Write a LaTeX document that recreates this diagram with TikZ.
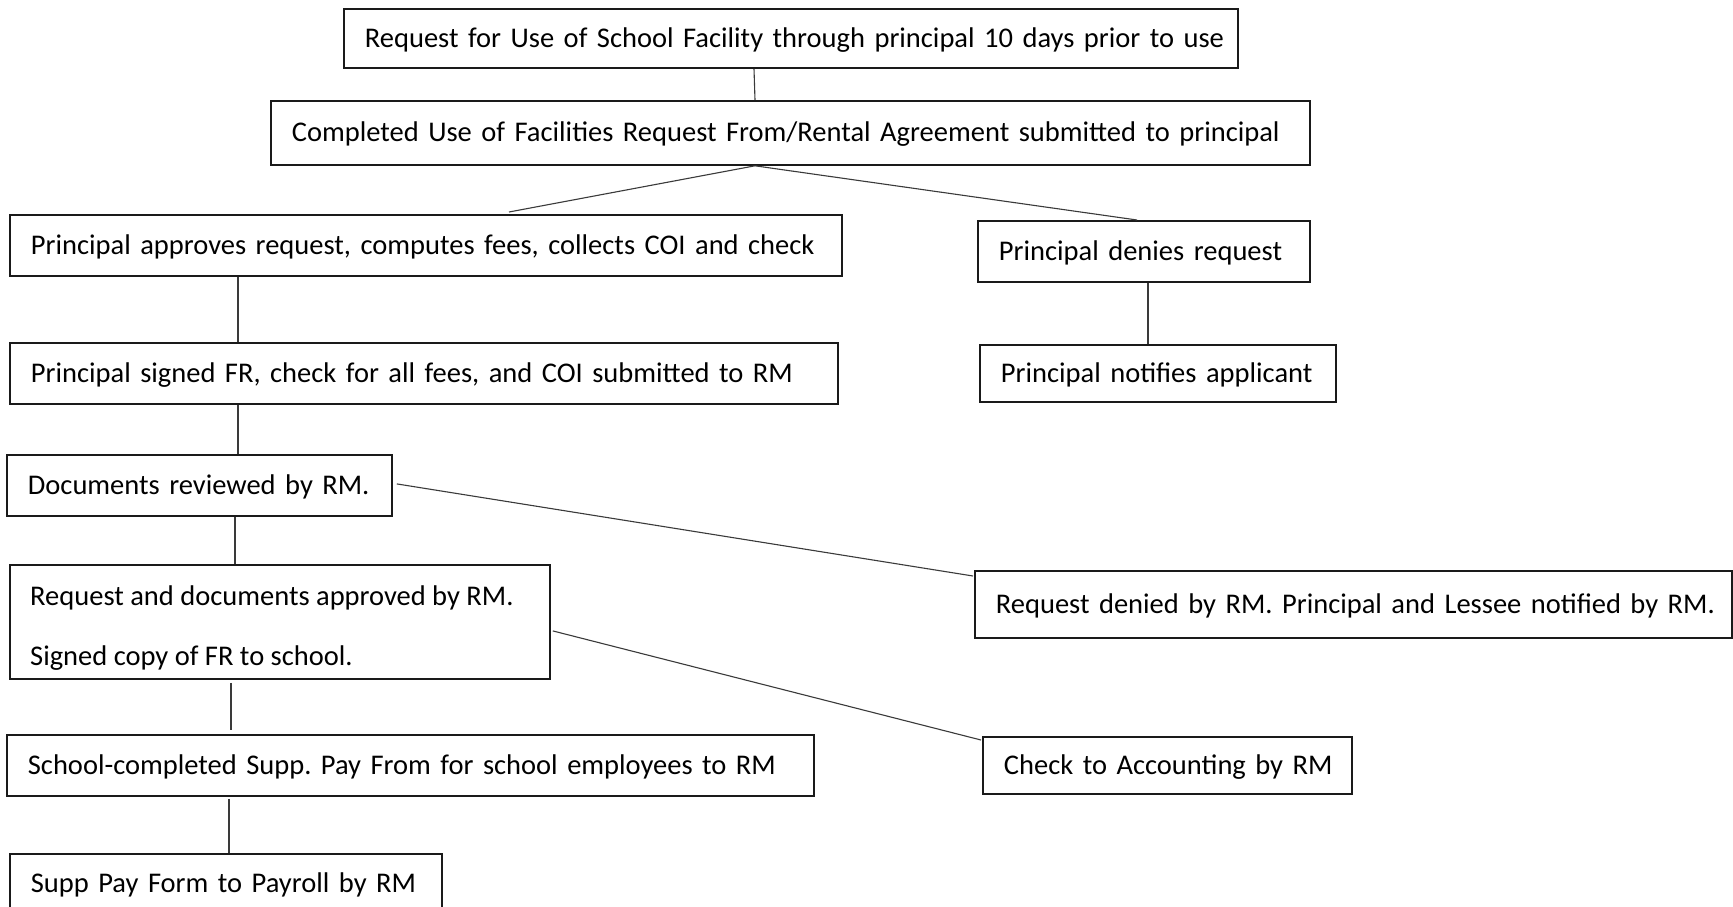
\documentclass[tikz,border=0pt]{standalone}
\usepackage{fontspec}
\setmainfont{Carlito}
\definecolor{boxc}{HTML}{1A1A1A}
\definecolor{linec}{HTML}{3A3A3A}
\definecolor{txtc}{HTML}{000000}
\frenchspacing
\begin{document}
\begin{tikzpicture}[x=1pt,y=-1pt,
  bx/.style n args={3}{draw=boxc, line width=1.8pt, anchor=north west,
    minimum width=#1pt, minimum height=#2pt, text width=#3pt,
    inner xsep=21pt, inner ysep=0pt, align=left, text height=18pt, text depth=0pt,
    text=txtc, font=\fontsize{28.5}{34}\selectfont},
  txt/.style={anchor=base west, inner sep=0pt, text=txtc, font=\fontsize{28.5}{34}\selectfont},
  ln/.style={draw=linec, line width=1.1pt}]
\useasboundingbox[fill=white] (0,0) rectangle (1733,906);

\node[bx={894}{59}{852}] (b1) at (343,8) {\mbox{Request for Use of School Facility through principal 10 days prior to use}};
\node[bx={1039}{64}{997}] (b2) at (270,100) {\mbox{Completed Use of Facilities Request From/Rental Agreement submitted to principal}};
\node[bx={832}{61}{790}] (b3) at (9,214) {\mbox{Principal approves request, computes fees, collects COI and check}};
\node[bx={332}{61}{290}] (bd) at (977,220) {\mbox{Principal denies request}};
\node[bx={356}{57}{314}] (bn) at (979,344) {\mbox{Principal notifies applicant}};
\node[bx={828}{61}{786}] (b4) at (9,342) {\mbox{Principal signed FR, check for all fees, and COI submitted to RM}};
\node[bx={385}{61}{343}] (b5) at (6,454) {\mbox{Documents reviewed by RM.}};
\node[bx={540}{114}{498}] (b6) at (9,564) {};
\node[txt] (b6a) at ([xshift=21pt,yshift=-41pt]b6.north west) {Request and documents approved by RM.};
\node[txt] (b6b) at ([xshift=21pt,yshift=-101pt]b6.north west) {Signed copy of FR to school.};
\node[bx={757}{67}{715}] (brm) at (974,570) {\mbox{Request denied by RM. Principal and Lessee notified by RM.}};
\node[bx={369}{57}{327}] (bc) at (982,736) {\mbox{Check to Accounting by RM}};
\node[bx={807}{61}{765}] (b7) at (6,734) {\mbox{School-completed Supp. Pay From for school employees to RM}};
\node[bx={432}{60}{390}] (b8) at (9,853) {\mbox{Supp Pay Form to Payroll by RM}};

\draw[ln] ([xshift=411pt]b1.south west) -- ([xshift=485pt]b2.north west);
\draw[ln] ([xshift=485pt]b2.south west) -- ([xshift=500pt,yshift=2pt]b3.north west);
\draw[ln] ([xshift=485pt]b2.south west) -- ([xshift=160pt]bd.north west);
\draw[ln] ([xshift=229pt]b3.south west) -- ([xshift=229pt]b4.north west);
\draw[ln] ([xshift=171pt]bd.south west) -- ([xshift=169pt]bn.north west);
\draw[ln] ([xshift=229pt]b4.south west) -- ([xshift=232pt]b5.north west);
\draw[ln] ([xshift=4pt,yshift=1.5pt]b5.east) -- ([xshift=-1pt,yshift=-6pt]brm.north west);
\draw[ln] ([xshift=229pt]b5.south west) -- ([xshift=226pt]b6.north west);
\draw[ln] ([xshift=2pt,yshift=-9pt]b6.east) -- ([xshift=-1pt,yshift=-4pt]bc.north west);
\draw[ln] ([xshift=222pt,yshift=-3pt]b6.south west) -- ([xshift=225pt,yshift=4pt]b7.north west);
\draw[ln] ([xshift=223pt,yshift=-2pt]b7.south west) -- ([xshift=220pt]b8.north west);
\end{tikzpicture}
\end{document}
